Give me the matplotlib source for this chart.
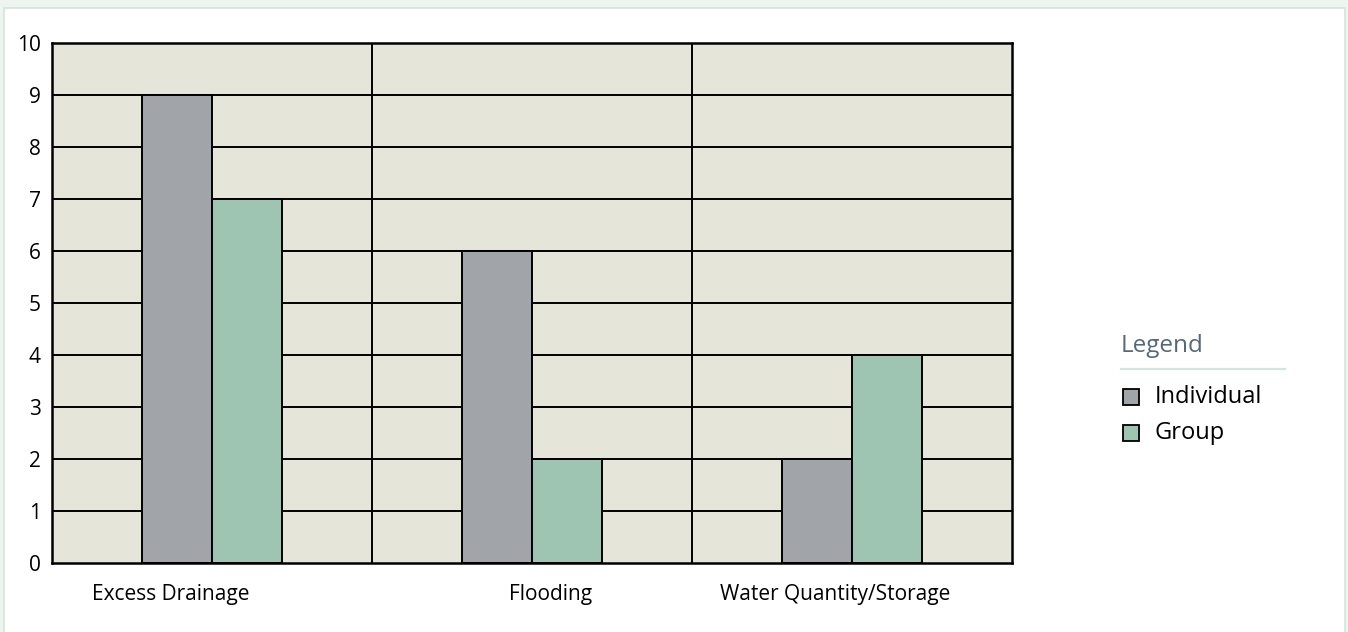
import matplotlib.pyplot as plt
from matplotlib.patches import Rectangle
from matplotlib.lines import Line2D
import numpy as np

# datos
categorias = ['Excess Drainage', 'Flooding', 'Water Quantity/Storage']
individual = [9, 6, 2]
grupo = [7, 2, 4]
series = ['Individual', 'Group']
pos_etiquetas = [0.372, 1.559, 2.447]

color_ind = '#A1A4A8'
color_grp = '#9EC4B2'
fondo = '#E6E5DA'

plt.rcParams['font.family'] = ['Open Sans', 'DejaVu Sans']

fig = plt.figure(figsize=(13.48, 6.32), dpi=100, facecolor='#EEF5F1')
# panel blanco con borde
fig.add_artist(Rectangle((4 / 1348, -0.01), 1341 / 1348, (632 - 8) / 632 + 0.01,
                         transform=fig.transFigure, facecolor='white',
                         edgecolor='#D3E5DC', linewidth=1.2, zorder=0))

ax = fig.add_axes([52 / 1348, 69 / 632, 960 / 1348, 520 / 632])
ax.set_facecolor(fondo)

x = np.arange(len(categorias))
ancho = 0.219
b1 = ax.bar(x + 0.5 - ancho / 2, individual, ancho, color=color_ind,
            edgecolor='black', linewidth=1.4, zorder=3, label=series[0])
b2 = ax.bar(x + 0.5 + ancho / 2, grupo, ancho, color=color_grp,
            edgecolor='black', linewidth=1.4, zorder=3, label=series[1])

ax.set_xlim(0, len(categorias))
ax.set_ylim(0, 10)
ax.set_yticks(range(0, 11))
for v in range(1, 10):
    ax.axhline(v, color='black', linewidth=1.4, zorder=1)
for c in range(1, len(categorias)):
    ax.axvline(c, color='black', linewidth=1.4, zorder=1)
for s in ax.spines.values():
    s.set_linewidth(1.8)
    s.set_zorder(4)

ax.set_xticks(pos_etiquetas)
ax.set_xticklabels(categorias)
ax.tick_params(axis='both', length=0, labelsize=15, colors='black')
ax.tick_params(axis='x', pad=15)
ax.tick_params(axis='y', pad=8)

# leyenda (a mano)
fig.text(1121 / 1348, 1 - 346 / 632, 'Legend', fontsize=17.5, color='#56697A',
         ha='left', va='center')
fig.add_artist(Line2D([1121 / 1348, 1285 / 1348], [1 - 369 / 632, 1 - 369 / 632],
                      transform=fig.transFigure, color='#D3E5DC', linewidth=1.6))
for i, (nombre, col) in enumerate(zip(series, [color_ind, color_grp])):
    yc = 397 + 36 * i
    fig.add_artist(Rectangle((1123 / 1348, 1 - (yc + 8) / 632), 16 / 1348, 16 / 632,
                             transform=fig.transFigure, facecolor=col,
                             edgecolor='black', linewidth=1.3))
    fig.text(1155 / 1348, 1 - yc / 632, nombre, fontsize=17, color='black',
             ha='left', va='center')

fig.savefig('out.png', dpi=100, facecolor=fig.get_facecolor())
